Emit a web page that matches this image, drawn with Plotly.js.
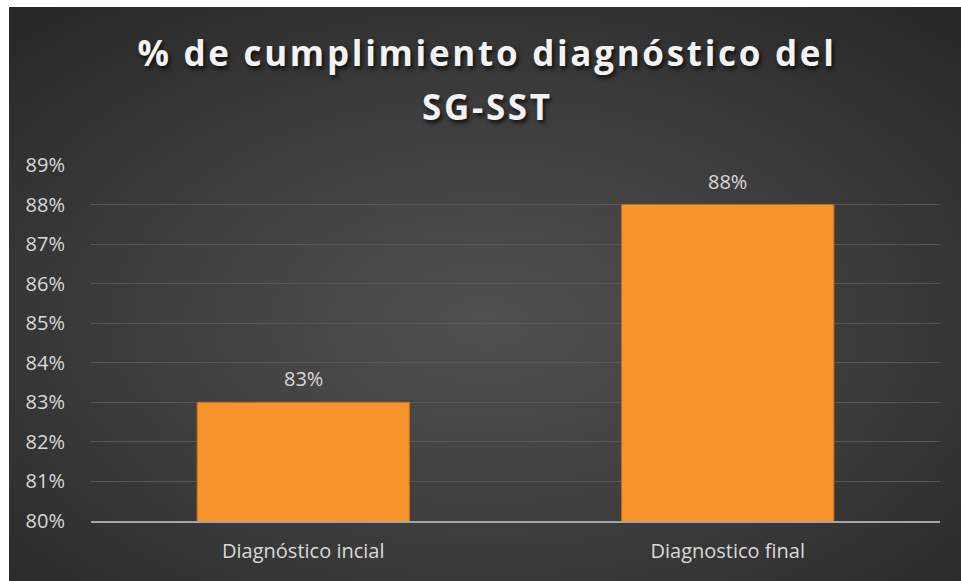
<!DOCTYPE html>
<html>
<head>
<meta charset="utf-8">
<script src="https://cdn.plot.ly/plotly-3.0.1.min.js"></script>
<style>
  html, body { margin: 0; padding: 0; background: #ffffff; width: 961px; height: 581px; overflow: hidden; }
  #chart {
    position: absolute; left: 9px; top: 7px; width: 952px; height: 574px;
    background: radial-gradient(ellipse 75% 75% at 50% 55%, #505050 0%, #3f3f3f 45%, #262626 100%);
  }
  #chart .gtitle, #chart .annotation.title2 text { letter-spacing: 2.7px; }
</style>
</head>
<body>
<div id="chart"></div>
<script>
const categories = ["Diagnóstico incial", "Diagnostico final"];
const values = [0.83, 0.88];
const tickValues = [0.80, 0.81, 0.82, 0.83, 0.84, 0.85, 0.86, 0.87, 0.88, 0.89];
const titleLine1 = "% de cumplimiento diagnóstico del";
const titleLine2 = "SG-SST";

const labelFont = { family: "Open Sans, sans-serif", size: 20, color: "#d9d9d9" };
const titleFont = { family: "Open Sans, sans-serif", size: 35, weight: 700, color: "#f2f2f2",
                    shadow: "2px 3px 4px rgba(0,0,0,0.75)" };

const trace = {
  type: "bar",
  x: categories,
  y: values,
  width: 0.5,
  marker: { color: "#F7952C", line: { color: "#C96F12", width: 1 } },
  hoverinfo: "skip"
};

const valueLabels = categories.map((c, i) => ({
  x: c, y: values[i], xref: "x", yref: "y",
  text: Math.round(values[i] * 100) + "%",
  showarrow: false, yanchor: "bottom", yshift: 8,
  font: labelFont
}));

const plotLeft = 82, plotWidth = 849, plotTop = 158, plotHeight = 356;
const layout = {
  width: 952,
  height: 574,
  paper_bgcolor: "rgba(0,0,0,0)",
  plot_bgcolor: "rgba(0,0,0,0)",
  margin: { l: plotLeft, r: 21, t: plotTop, b: 60 },
  showlegend: false,
  title: {
    text: titleLine1,
    xref: "container",
    x: 478 / 952,
    xanchor: "center",
    yref: "container",
    y: 1 - 47 / 574,
    yanchor: "middle",
    font: titleFont
  },
  annotations: valueLabels.concat([{
    text: titleLine2, xref: "paper", yref: "paper",
    x: (478 - plotLeft) / plotWidth, xanchor: "center",
    y: 1 + (plotTop - 100) / plotHeight, yanchor: "middle",
    showarrow: false, font: titleFont
  }]),
  xaxis: {
    type: "category",
    showgrid: false,
    showline: true,
    linecolor: "#a6a6a6",
    linewidth: 2,
    ticks: "",
    tickfont: labelFont,
    ticklabelstandoff: 11
  },
  yaxis: {
    range: [0.80, 0.89],
    tickvals: tickValues,
    tickformat: ".0%",
    showgrid: true,
    gridcolor: "#575757",
    gridwidth: 1,
    zeroline: false,
    showline: false,
    ticks: "",
    ticklabelstandoff: 25,
    tickfont: labelFont
  },
  bargap: 0.5
};

Plotly.newPlot("chart", [trace], layout, { displayModeBar: false, staticPlot: true }).then(() => {
  const ann = document.querySelectorAll("#chart .annotation");
  const last = ann[ann.length - 1];
  if (last) last.classList.add("title2");
});
</script>
</body>
</html>
